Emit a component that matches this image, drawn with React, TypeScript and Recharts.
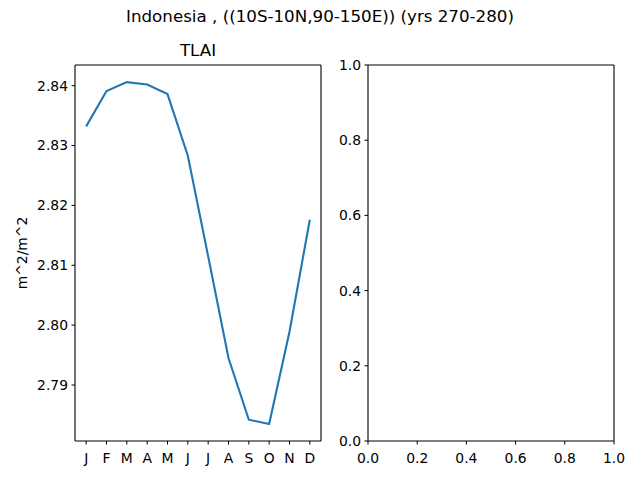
import React from 'react';
import { LineChart, Line, XAxis, YAxis, Label } from 'recharts';

const months = ['J', 'F', 'M', 'A', 'M', 'J', 'J', 'A', 'S', 'O', 'N', 'D'];
const tlai = [2.8332, 2.8391, 2.8406, 2.8402, 2.8386, 2.8283, 2.8115, 2.7945, 2.7842, 2.7835, 2.7989, 2.8176];
const leftTicks = [2.79, 2.8, 2.81, 2.82, 2.83, 2.84];
const rightTicks = [0, 0.2, 0.4, 0.6, 0.8, 1.0];

const FONT = 'DejaVu Sans, sans-serif';
const tickStyle = { fill: '#000', fontSize: 13.9, fontFamily: FONT };
const axisLine = { stroke: '#000', strokeWidth: 1.1 };

const data = months.map((m, i) => ({ idx: i, tlai: tlai[i] }));
const lo = Math.min(...tlai);
const hi = Math.max(...tlai);
const pad = (hi - lo) * 0.05;
const yDomain = [lo - pad, hi + pad];
const xDomain = [-0.55, 11.55];

export default function App() {
  return (
    <div style={{ position: 'absolute', left: 0, top: 0, width: 640, height: 480, background: '#fff', fontFamily: FONT }}>
      <div style={{ position: 'absolute', left: 0, top: 6, width: 640, textAlign: 'center', fontSize: 16.7, color: '#000' }}>
        Indonesia , ((10S-10N,90-150E)) (yrs 270-280)
      </div>
      <div style={{ position: 'absolute', left: 75, top: 40, width: 246, textAlign: 'center', fontSize: 16.7, color: '#000' }}>
        TLAI
      </div>
      <div style={{ position: 'absolute', left: 0, top: 0 }}>
        <LineChart width={330} height={480} data={data} margin={{ top: 64, right: 8, bottom: 0, left: 0 }}>
          <XAxis
            dataKey="idx"
            type="number"
            domain={xDomain}
            ticks={months.map((m, i) => i)}
            tickFormatter={(v) => months[v]}
            interval={0}
            height={39}
            tickSize={3.5}
            tickMargin={8.5}
            stroke="#000"
            axisLine={axisLine}
            tick={tickStyle}
            allowDataOverflow
          />
          <XAxis xAxisId="top" orientation="top" type="number" domain={xDomain} height={1} tick={false} tickLine={false} axisLine={axisLine} allowDataOverflow />
          <YAxis
            type="number"
            domain={yDomain}
            ticks={leftTicks}
            tickFormatter={(v) => v.toFixed(2)}
            width={75}
            tickSize={3.5}
            tickMargin={3.5}
            stroke="#000"
            axisLine={axisLine}
            tick={tickStyle}
            allowDataOverflow
          >
            <Label value="m^2/m^2" angle={-90} position="center" dx={-15} style={{ fill: '#000', fontSize: 13.9, fontFamily: FONT }} />
          </YAxis>
          <YAxis yAxisId="right" orientation="right" type="number" domain={yDomain} width={1} tick={false} tickLine={false} axisLine={axisLine} allowDataOverflow />
          <Line dataKey="tlai" stroke="#1f77b4" strokeWidth={2.1} dot={false} isAnimationActive={false} />
        </LineChart>
      </div>
      <div style={{ position: 'absolute', left: 330, top: 0 }}>
        <LineChart width={310} height={480} data={[]} margin={{ top: 64, right: 25, bottom: 0, left: 0 }}>
          <XAxis
            dataKey="x"
            type="number"
            domain={[0, 1]}
            ticks={rightTicks}
            tickFormatter={(v) => v.toFixed(1)}
            interval={0}
            height={39}
            tickSize={3.5}
            tickMargin={8.5}
            stroke="#000"
            axisLine={axisLine}
            tick={tickStyle}
            allowDataOverflow
          />
          <XAxis xAxisId="top" orientation="top" type="number" domain={[0, 1]} height={1} tick={false} tickLine={false} axisLine={axisLine} allowDataOverflow />
          <YAxis
            type="number"
            domain={[0, 1]}
            ticks={rightTicks}
            tickFormatter={(v) => v.toFixed(1)}
            width={38}
            tickSize={3.5}
            tickMargin={3.5}
            stroke="#000"
            axisLine={axisLine}
            tick={tickStyle}
            allowDataOverflow
          />
          <YAxis yAxisId="right" orientation="right" type="number" domain={[0, 1]} width={1} tick={false} tickLine={false} axisLine={axisLine} allowDataOverflow />
          <Line dataKey="y" stroke="#1f77b4" dot={false} isAnimationActive={false} />
        </LineChart>
      </div>
    </div>
  );
}
